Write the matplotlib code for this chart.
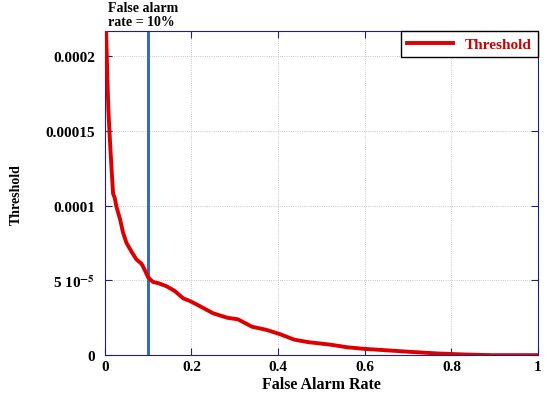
import matplotlib
matplotlib.use("Agg")
import matplotlib.pyplot as plt
import numpy as np

plt.rcParams['font.family'] = ['Liberation Serif', 'DejaVu Serif']
plt.rcParams['font.weight'] = 'bold'
plt.rcParams['mathtext.fontset'] = 'stix'

# false alarm rate vs threshold
far = [0.002, 0.004, 0.006, 0.008, 0.010, 0.013, 0.016, 0.019, 0.023, 0.027, 0.035,
       0.042, 0.050, 0.062, 0.073, 0.085, 0.092, 0.100, 0.111, 0.125, 0.143,
       0.161, 0.181, 0.198, 0.218, 0.250, 0.283, 0.307, 0.340, 0.372, 0.405,
       0.437, 0.470, 0.519, 0.559, 0.600, 0.649, 0.706, 0.771, 0.836, 0.893, 1.0]
thr = [2.25e-4, 2.05e-4, 1.84e-4, 1.65e-4, 1.53e-4, 1.37e-4, 1.22e-4, 1.08e-4, 1.05e-4, 9.9e-5, 9.1e-5,
       8.2e-5, 7.5e-5, 6.9e-5, 6.4e-5, 6.1e-5, 5.7e-5, 5.2e-5, 4.9e-5, 4.8e-5, 4.6e-5,
       4.3e-5, 3.8e-5, 3.6e-5, 3.3e-5, 2.8e-5, 2.5e-5, 2.4e-5, 1.9e-5, 1.7e-5, 1.4e-5,
       1.04e-5, 8.7e-6, 7.1e-6, 5.3e-6, 4.2e-6, 3.3e-6, 2.2e-6, 1.1e-6, 0.4e-6, 0.0, 0.0]

alarm_rate = 0.1
xticks = [0, 0.2, 0.4, 0.6, 0.8, 1]
xticklabels = ['0', '0.2', '0.4', '0.6', '0.8', '1']
yticks = [0, 5e-5, 1e-4, 1.5e-4, 2e-4]
yticklabels = ['0', r'5 10$^{\mathbf{-5}}$', '0.0001', '0.00015', '0.0002']

fig = plt.figure(figsize=(5.49, 4.02), dpi=100)
ax = fig.add_axes([0.191, 0.114, 0.789, 0.806])

ax.plot(far, thr, color='#dd0000', lw=2.8, label='Threshold', zorder=3)
ax.axvline(alarm_rate, color='#3a6db0', lw=2.2, zorder=2)

ax.set_xlim(0, 1)
ax.set_ylim(0, 2.167e-4)
ax.set_xticks(xticks)
ax.set_xticklabels(xticklabels)
ax.set_yticks(yticks)
ax.set_yticklabels(yticklabels)
ax.tick_params(direction='in', top=True, right=True, labelsize=11,
               color='#202080', length=5)
ax.tick_params(axis='y', pad=7)
for s in ax.spines.values():
    s.set_color('#202080')
    s.set_linewidth(0.8)
ax.grid(True, linestyle=':', color='#b4b4c4', lw=0.6)

ax.set_xlabel('False Alarm Rate', fontsize=11.5, fontweight='bold', labelpad=2)
ax.set_ylabel('Threshold', fontsize=10, fontweight='bold', labelpad=16)

ax.text(0.007, 1.01, 'False alarm\nrate = 10%', transform=ax.transAxes,
        ha='left', va='bottom', fontsize=10, fontweight='bold', linespacing=1.1)

leg = ax.legend(loc='upper right', borderaxespad=0, fancybox=False, framealpha=1,
                edgecolor='black', fontsize=11, handlelength=3)
for t in leg.get_texts():
    t.set_color('#cc0000')
    t.set_fontweight('bold')

fig.savefig('out.png', dpi=100)
